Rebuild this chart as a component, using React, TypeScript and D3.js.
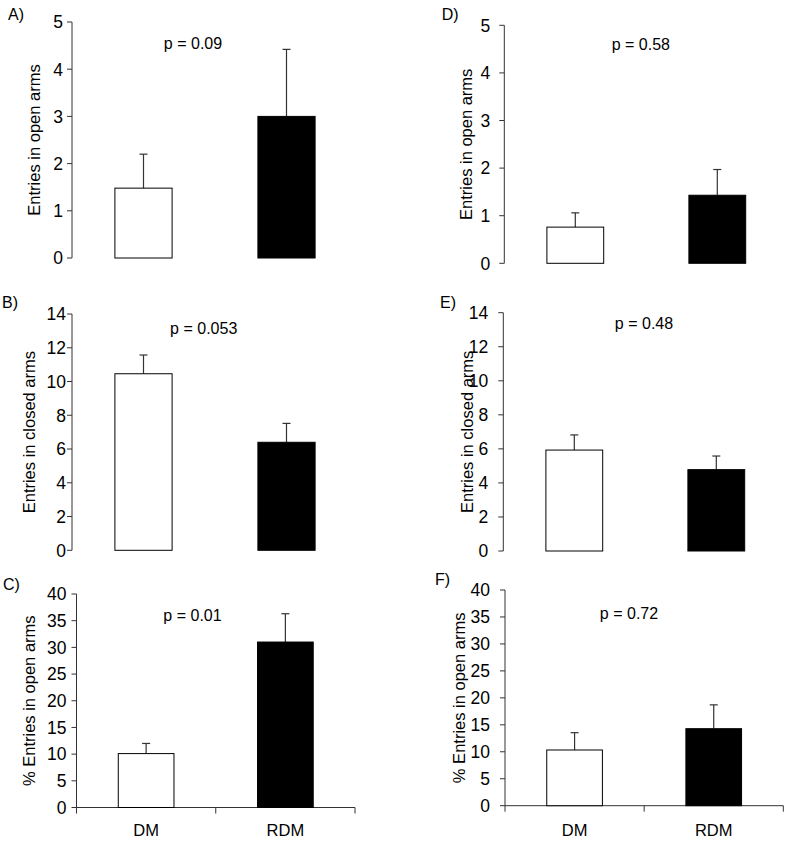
import React from "react";
import * as d3 from "d3";

const groups = ["DM", "RDM"];

const panelIds = ["A)", "B)", "C)", "D)", "E)", "F)"];
const yTitles = [
  "Entries in open arms",
  "Entries in closed arms",
  "% Entries in open arms",
  "Entries in open arms",
  "Entries in closed arms",
  "% Entries in open arms",
];
const pValues = ["p = 0.09", "p = 0.053", "p = 0.01", "p = 0.58", "p = 0.48", "p = 0.72"];
const yMax = [5, 14, 40, 5, 14, 40];
const yStep = [1, 2, 5, 1, 2, 5];

const meanA = [1.48, 3.0];
const errA = [0.72, 1.42];
const meanB = [10.46, 6.4];
const errB = [1.11, 1.12];
const meanC = [10.1, 31.0];
const errC = [1.9, 5.3];
const meanD = [0.76, 1.43];
const errD = [0.3, 0.54];
const meanE = [5.93, 4.78];
const errE = [0.89, 0.8];
const meanF = [10.33, 14.28];
const errF = [3.21, 4.42];

const means = [meanA, meanB, meanC, meanD, meanE, meanF];
const errs = [errA, errB, errC, errD, errE, errF];

// layout (pixels)
const layout = [
  { ax: 72, w: 286, y0: 258, y1: 22, tickGap: 9, titleX: 40, pX: 193, pY: 48.5, idX: 8, idY: 20, xAxis: false },
  { ax: 72, w: 286, y0: 550.3, y1: 314, tickGap: 6, titleX: 35, pX: 203.7, pY: 333.5, idX: 2, idY: 308, xAxis: false },
  { ax: 76.5, w: 278.5, y0: 807.5, y1: 594, tickGap: 10, titleX: 35, pX: 192.5, pY: 620.5, idX: 3, idY: 590, xAxis: true },
  { ax: 504.3, w: 284, y0: 263.3, y1: 25.3, tickGap: 14, titleX: 471.6, pX: 640.8, pY: 50, idX: 441.7, idY: 20, xAxis: false },
  { ax: 503.3, w: 284, y0: 551, y1: 312.7, tickGap: 15, titleX: 473, pX: 644, pY: 328.5, idX: 440, idY: 308, xAxis: false },
  { ax: 505, w: 278.3, y0: 805.7, y1: 590, tickGap: 15, titleX: 465, pX: 629, pY: 618.5, idX: 435, idY: 585, xAxis: true },
];

const FONT = "'Liberation Sans', Arial, sans-serif";
const AXIS = "#333";

function Panel({ i }: { i: number }) {
  const L = layout[i];
  const x = d3.scaleBand<string>().domain(groups).range([L.ax, L.ax + L.w]).paddingInner(0.6).paddingOuter(0.3);
  const y = d3.scaleLinear().domain([0, yMax[i]]).range([L.y0, L.y1]);
  const ticks = d3.range(0, yMax[i] + yStep[i] / 2, yStep[i]);
  const m = means[i];
  const e = errs[i];
  const step = x.step();
  return (
    <g>
      <text x={L.idX} y={L.idY} fontSize={16} fontFamily={FONT}>{panelIds[i]}</text>
      {/* y axis */}
      <line x1={L.ax} x2={L.ax} y1={y(yMax[i])} y2={L.xAxis ? L.y0 + 6 : L.y0} stroke={AXIS} strokeWidth={1} />
      {ticks.map((t) => (
        <g key={t}>
          <line x1={L.ax - 5} x2={L.ax} y1={y(t)} y2={y(t)} stroke={AXIS} strokeWidth={1} />
          <text x={L.ax - L.tickGap} y={y(t)} dy="0.36em" textAnchor="end" fontSize={17.5} fontFamily={FONT}>{t}</text>
        </g>
      ))}
      <text transform={`translate(${L.titleX},${(L.y0 + L.y1) / 2}) rotate(-90)`} textAnchor="middle" fontSize={16.5} fontFamily={FONT}>{yTitles[i]}</text>
      {L.xAxis && (
        <g>
          <line x1={L.ax} x2={L.ax + L.w} y1={L.y0} y2={L.y0} stroke={AXIS} strokeWidth={1} />
          <line x1={L.ax + step} x2={L.ax + step} y1={L.y0} y2={L.y0 + 6} stroke={AXIS} strokeWidth={1} />
          <line x1={L.ax + L.w} x2={L.ax + L.w} y1={L.y0} y2={L.y0 + 6} stroke={AXIS} strokeWidth={1} />
          {groups.map((g) => (
            <text key={g} x={(x(g) as number) + x.bandwidth() / 2} y={836} textAnchor="middle" fontSize={16.5} fontFamily={FONT}>{g}</text>
          ))}
        </g>
      )}
      {groups.map((g, k) => {
        const bx = x(g) as number;
        const cx = bx + x.bandwidth() / 2;
        return (
          <g key={g}>
            <line x1={cx} x2={cx} y1={y(m[k])} y2={y(m[k] + e[k])} stroke={AXIS} strokeWidth={1.2} />
            <line x1={cx - 4} x2={cx + 4} y1={y(m[k] + e[k])} y2={y(m[k] + e[k])} stroke={AXIS} strokeWidth={1.2} />
            <rect x={bx} y={y(m[k])} width={x.bandwidth()} height={L.y0 - y(m[k])} fill={k === 0 ? "#fff" : "#000"} stroke="#000" strokeWidth={1} />
          </g>
        );
      })}
      <text x={L.pX} y={L.pY} textAnchor="middle" fontSize={16} fontFamily={FONT}>{pValues[i]}</text>
    </g>
  );
}

export default function App() {
  return (
    <svg width={787} height={842} style={{ position: "absolute", left: 0, top: 0, background: "#fff" }}>
      <rect width={787} height={842} fill="#fff" />
      {layout.map((_, i) => (
        <Panel key={i} i={i} />
      ))}
    </svg>
  );
}
